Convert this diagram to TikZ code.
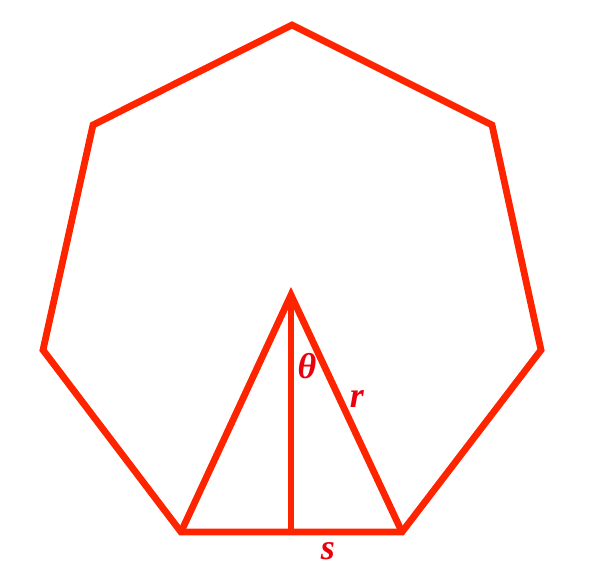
\documentclass[tikz,border=0pt]{standalone}
\usepackage{fontspec}
\setmainfont{Liberation Serif}
\usepackage{tikz}
\usetikzlibrary{arrows.meta}
\definecolor{edgered}{RGB}{255,36,0}
\definecolor{labred}{RGB}{235,0,12}
\begin{document}
\begin{tikzpicture}[x=1pt,y=-1pt]
\useasboundingbox (0,0) rectangle (589,583);
%\tikzstyle{side}=[draw=edgered,line width=6pt]
\begin{scope}[every path/.style={draw=edgered,line width=6.8pt,line join=miter},
              every node/.style={text=labred,font=\fontsize{36}{36}\selectfont\bfseries\itshape}]
    \coordinate (a) at (292,25);
    \coordinate (b) at (492,125);
    \coordinate (c) at (541,350);
    \coordinate (d) at (402,532);
    \coordinate (e) at (181,532);
    \coordinate (f) at (43,350);
    \coordinate (g) at (93,125);
    \coordinate (o) at (291,295);
    \coordinate (m) at (291,532);
    \draw (a) -- (b) -- (c) -- (d) -- (e) -- (f) -- (g) -- cycle;
    \draw (e) -- (o) -- (d);
    \draw (o) -- (m);
    \node (t) at (307,366) {θ};
    \node (r) at (357,399) {r};
    \node (s) at (328,551) {s};
\end{scope}
\end{tikzpicture}
\end{document}
